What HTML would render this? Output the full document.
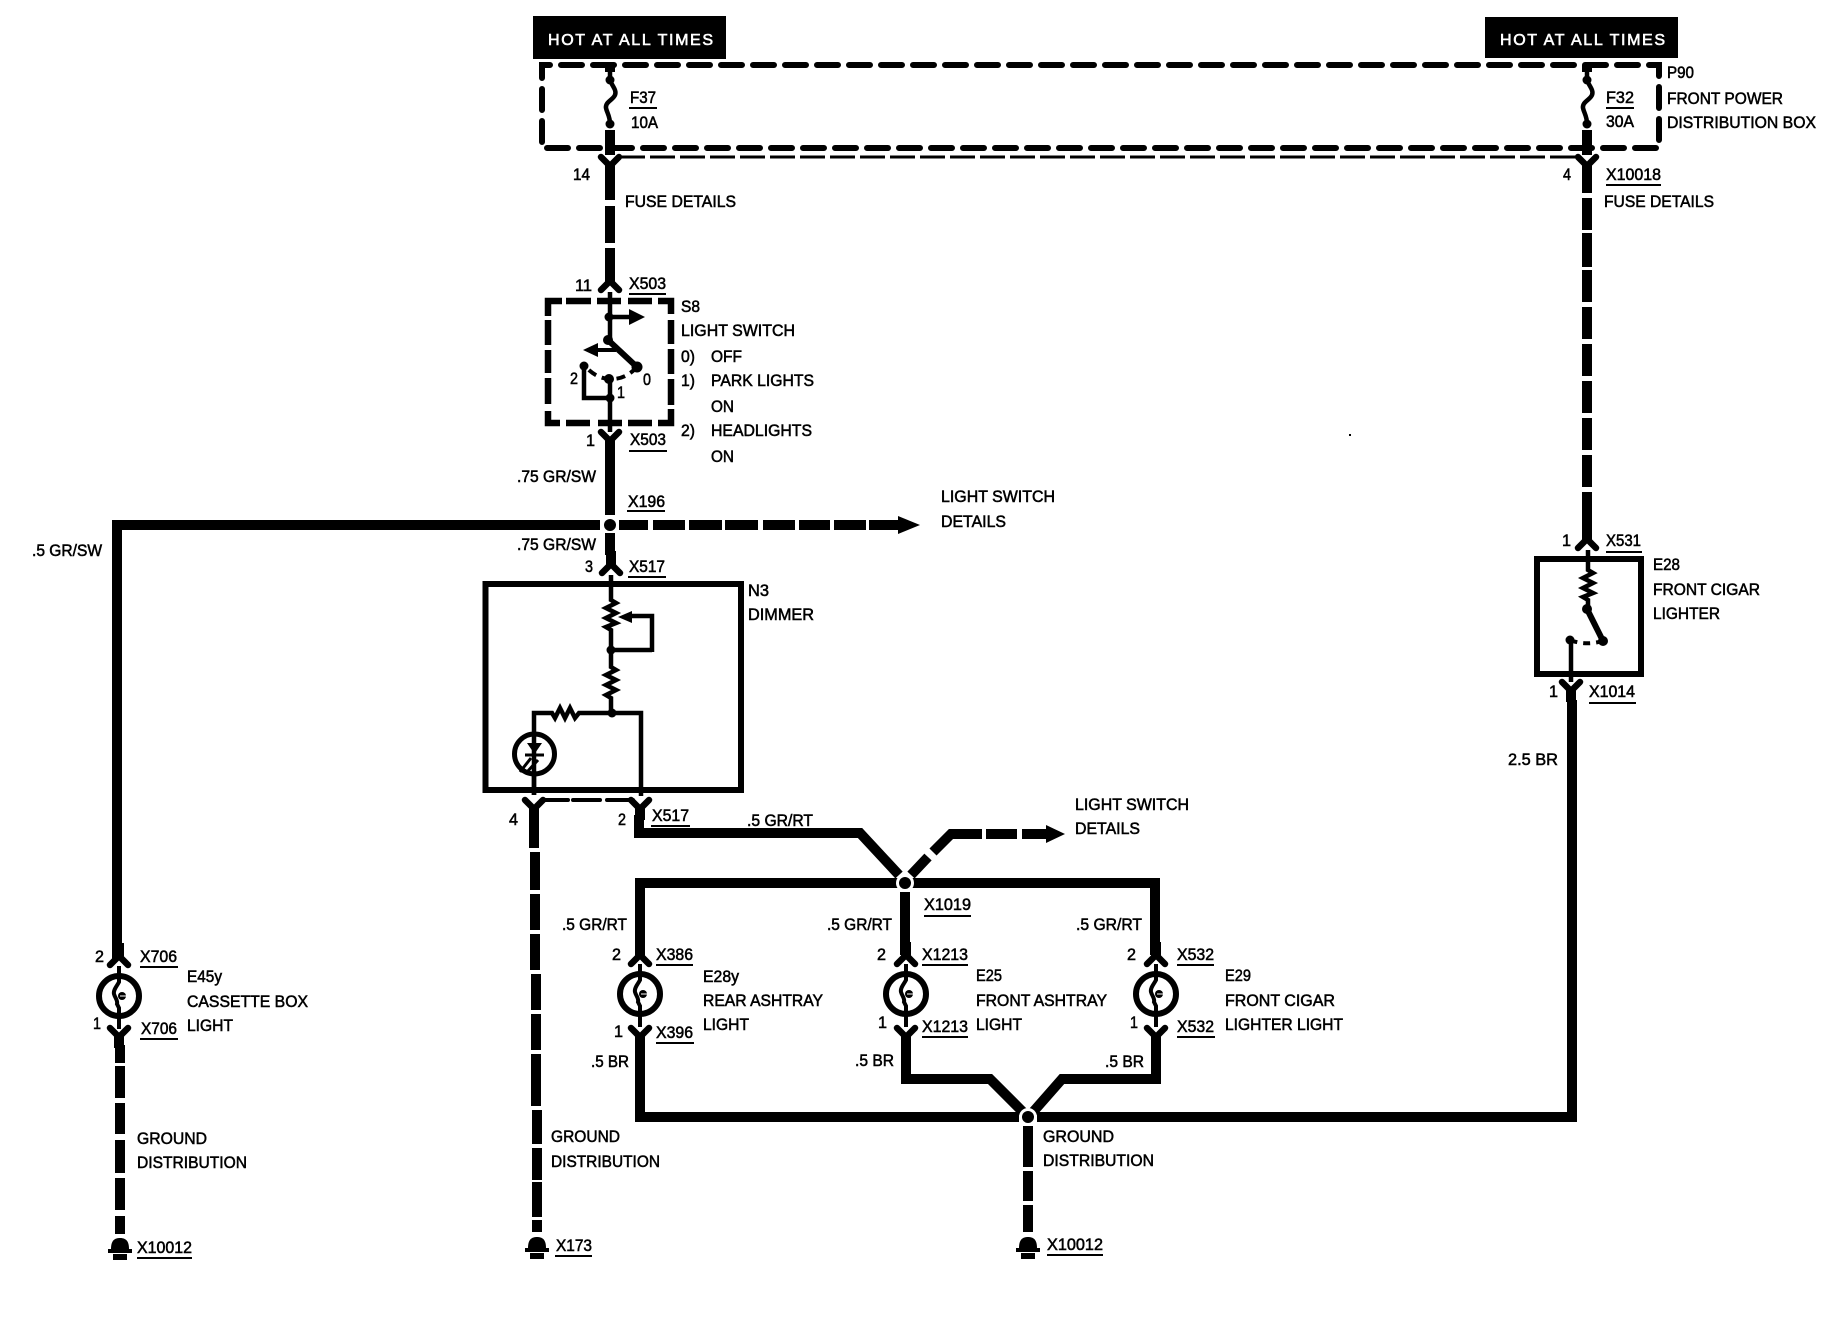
<!DOCTYPE html>
<html><head><meta charset="utf-8"><title>Wiring diagram</title>
<style>
html,body{margin:0;padding:0;background:#fff}
svg{display:block}
text{font-family:"Liberation Sans",sans-serif;font-size:17px;fill:#000;stroke:#000;stroke-width:.55;}
.w{fill:none;stroke:#000;stroke-width:10}
.t{fill:none;stroke:#000;stroke-width:4.5}
.box{fill:none;stroke:#000;stroke-width:6;stroke-linecap:round}
.u{stroke:#000;stroke-width:2}
</style></head><body>
<svg width="1826" height="1328" viewBox="0 0 1826 1328" xmlns="http://www.w3.org/2000/svg">
<defs>
<g id="up"><path d="M-9,0 L0,-9 L9,0" fill="none" stroke="#000" stroke-width="6.5" stroke-linecap="round"/><rect x="-5" y="-22" width="10" height="14"/></g>
<g id="dn"><path d="M-9,0 L0,9 L9,0" fill="none" stroke="#000" stroke-width="6.5" stroke-linecap="round"/><rect x="-5" y="8" width="10" height="12"/></g>
<g id="lamp"><circle r="20" fill="#fff" stroke="#000" stroke-width="6"/><path d="M0,-30 V-14 C-2,-10 -6,-6 -5,-2 C-4,2 -1,4 -2,8 L0,12 V33" fill="none" stroke="#000" stroke-width="4"/><circle cx="3" cy="0" r="4"/><path d="M1,0 H7" stroke="#fff" stroke-width="1"/></g>
<g id="gnd"><path d="M-9,11 C-9,2 -5,0 0,0 C5,0 9,2 9,11 Z"/><rect x="-12" y="11" width="24" height="4"/><rect x="-7" y="16" width="14" height="6"/></g>
</defs>
<rect width="1826" height="1328" fill="#fff"/>

<!-- hot boxes -->
<rect x="533" y="16" width="193" height="43"/>
<rect x="1485" y="17" width="193" height="41"/>
<text x="548" y="45" textLength="165" lengthAdjust="spacing" style="fill:#fff;stroke:#fff;stroke-width:.6;font-size:16px">HOT AT ALL TIMES</text>
<text x="1500" y="45" textLength="165" lengthAdjust="spacing" style="fill:#fff;stroke:#fff;stroke-width:.6;font-size:16px">HOT AT ALL TIMES</text>

<!-- P90 box -->
<path class="box" d="M542,78 V65 H1659 V148 H542 Z" stroke-dasharray="21 11"/>
<path d="M620,157 H1580" fill="none" stroke="#000" stroke-width="3" stroke-dasharray="25 5"/>

<!-- fuses -->
<path d="M610,65 V80 C612,86 617,90 615,95 C613,100 605,102 606,108 C607,113 610,116 610,124" class="t"/>
<rect x="605" y="65" width="10" height="7"/><circle cx="610" cy="80" r="4.5"/><circle cx="610" cy="124" r="4.5"/>
<rect x="605" y="130" width="10" height="25"/>
<path d="M1587,65 V80 C1589,86 1594,90 1592,95 C1590,100 1582,102 1583,108 C1584,113 1587,116 1587,124" class="t"/>
<rect x="1582" y="65" width="10" height="7"/><circle cx="1587" cy="80" r="4.5"/><circle cx="1587" cy="124" r="4.5"/>
<rect x="1582" y="130" width="10" height="25"/>

<use href="#dn" x="610" y="157"/>
<use href="#dn" x="1587" y="157"/>

<!-- main left vertical -->
<path class="w" d="M610,175 V200 M610,206 V243 M610,248 V285"/>
<use href="#up" x="610" y="290"/>

<!-- S8 -->
<path d="M548,316 V301 H562 M566,301 H591 M597,301 H621 M628,301 H652 M658,301 H671 V314 M671,320 V344 M671,349 V374 M671,379 V405 M671,409 V423 H658 M652,423 H628 M622,423 H598 M590,423 H566 M560,423 H548 V411 M548,404 V378 M548,373 V350 M548,345 V320" fill="none" stroke="#000" stroke-width="6.5"/>
<path class="t" d="M610,292 V340 M610,317 H632"/>
<path d="M645,317 L629,309 V325 Z"/>
<circle cx="609" cy="317" r="4.5"/><circle cx="608" cy="340" r="5"/>
<path d="M608,340 L637,367" fill="none" stroke="#000" stroke-width="6"/>
<circle cx="637" cy="367" r="5.5"/>
<path d="M583,350 L598,343 V357 Z"/><path d="M596,350 H616" stroke="#000" stroke-width="4"/>
<path d="M637,367 Q625,380 609,379 Q595,378 584,365" fill="none" stroke="#000" stroke-width="4" stroke-dasharray="9 6"/>
<circle cx="584" cy="366" r="4.5"/><circle cx="609" cy="379" r="5"/><circle cx="610" cy="398" r="4.5"/>
<path class="t" d="M584,366 V398 H610 M610,379 V432"/>
<use href="#dn" x="610" y="432"/>

<path class="w" d="M610,450 V515 M610,533 V555"/>
<!-- horizontal -->
<path class="w" d="M117,960 V525 H600"/>
<path class="w" d="M619,525 H648 M653,525 H685 M689,525 H722 M725,525 H758 M763,525 H795 M799,525 H830 M834,525 H866 M869,525 H898"/>
<path d="M920,525 L898,516 V534 Z"/>
<circle cx="610" cy="525" r="6"/>

<use href="#up" x="611" y="573"/>

<!-- N3 dimmer -->
<rect x="485.5" y="584" width="255.5" height="206" fill="none" stroke="#000" stroke-width="6"/>
<path class="t" d="M611,575 V600 l5,3 -10,5 10,5 -10,5 10,5 -10,4 5,3 V667 l5,3 -10,5 10,5 -10,5 10,5 -10,5 5,3 V713"/>
<path class="t" d="M652,650 H611 M652,652 V616 H630"/>
<path d="M618,617 L632,611 V623 Z"/>
<circle cx="611" cy="650" r="4.5"/><circle cx="612" cy="713" r="4.5"/>
<path class="t" d="M534,795 V713 H552 l3,5 5,-10 5,10 5,-10 5,10 4,-5 H641 V796"/>
<circle cx="534.5" cy="754" r="20" fill="#fff" stroke="#000" stroke-width="5"/>
<path class="t" d="M534,734 V795"/>
<path d="M527,743 H542 L534.5,754 Z"/><path d="M525,755 H544" stroke="#000" stroke-width="3"/>
<path d="M520,772 L531,758 M527,772 L538,760" stroke="#000" stroke-width="3"/>
<path d="M543,800 H568 M573,800 H600 M607,800 H633" stroke="#000" stroke-width="4" stroke-linecap="round"/>
<use href="#dn" x="534" y="800"/>
<use href="#dn" x="640" y="800"/>
<path class="w" d="M534,815 V848 M535,852 V890 M535,894 V930 M535,934 V970 M536,974 V1010 M536,1014 V1050 M536,1054 V1106 M537,1110 V1144 M537,1148 V1180 M537,1182 V1217 M537,1220 V1232"/>
<use href="#gnd" x="537" y="1237"/>

<!-- GR/RT net -->
<path class="w" d="M639,815 V833 H860 L899,875"/>
<path class="w" d="M911,875 L928,857 M933,852 L951,834 H982 M986,834 H1017 M1022,834 H1046"/>
<path d="M1065,834 L1046,825 V843 Z"/>
<path class="w" d="M640,955 V883 H1155 V955"/>
<path class="w" d="M905,892 V955"/>
<circle cx="905" cy="883" r="9" fill="#fff"/>
<circle cx="905" cy="883" r="6"/>

<use href="#up" x="640" y="964"/><use href="#up" x="906" y="964"/><use href="#up" x="1156" y="964"/><use href="#up" x="119" y="965"/>
<use href="#lamp" x="640" y="994"/><use href="#lamp" x="906" y="994"/><use href="#lamp" x="1156" y="994"/><use href="#lamp" x="119" y="996"/>
<use href="#dn" x="640" y="1028"/><use href="#dn" x="906" y="1028"/><use href="#dn" x="1156" y="1028"/><use href="#dn" x="119" y="1028"/>

<!-- cassette lower wire -->
<path class="w" d="M120,1045 V1063 M120,1066 V1098 M120,1103 V1134 M120,1140 V1173 M120,1178 V1210 M120,1216 V1234"/>
<use href="#gnd" x="120" y="1238"/>

<!-- BR net -->
<path class="w" d="M640,1040 V1117 H1019"/>
<path class="w" d="M1037,1117 H1572 V700"/>
<path class="w" d="M906,1040 V1079 H990 L1023,1112"/>
<path class="w" d="M1156,1040 V1079 H1062 L1033,1112"/>
<circle cx="1028" cy="1117" r="9" fill="#fff"/>
<circle cx="1028" cy="1117" r="6"/>
<path class="w" d="M1028,1126 V1167 M1028,1171 V1201 M1028,1205 V1232"/>
<use href="#gnd" x="1028" y="1237"/>

<!-- right vertical -->
<path class="w" d="M1587,175 V193 M1587,198 V230 M1587,233 V267 M1587,270 V302 M1587,307 V339 M1587,344 V376 M1587,381 V413 M1587,418 V450 M1587,455 V487 M1587,492 V528"/>
<use href="#up" x="1587" y="548"/>
<rect x="1537" y="559" width="104" height="115" fill="none" stroke="#000" stroke-width="6"/>
<path class="t" d="M1588,550 V570 l5,3 -10,5 10,5 -10,5 10,5 -10,4 5,3 V609"/>
<circle cx="1587" cy="609" r="5"/>
<path d="M1587,609 L1603,641" stroke="#000" stroke-width="6"/><circle cx="1603" cy="641" r="5"/>
<path d="M1603,641 Q1585,646 1570,640" fill="none" stroke="#000" stroke-width="4" stroke-dasharray="7 6"/>
<circle cx="1570" cy="640" r="4.5"/>
<path class="t" d="M1571,640 V682"/>
<use href="#dn" x="1571" y="682"/>
<rect x="1349" y="434" width="2" height="2"/>

<!-- labels -->
<text x="630" y="103" textLength="26" lengthAdjust="spacingAndGlyphs">F37</text><line class="u" x1="629" x2="657" y1="108" y2="108"/>
<text x="631" y="128" textLength="27" lengthAdjust="spacingAndGlyphs">10A</text>
<text x="573" y="180" textLength="17" lengthAdjust="spacingAndGlyphs">14</text>
<text x="625" y="207" textLength="111" lengthAdjust="spacingAndGlyphs">FUSE DETAILS</text>
<text x="575" y="291" textLength="17" lengthAdjust="spacingAndGlyphs">11</text>
<text x="629" y="289" textLength="37" lengthAdjust="spacingAndGlyphs">X503</text><line class="u" x1="629" x2="666" y1="294" y2="294"/>
<text x="681" y="312" textLength="19" lengthAdjust="spacingAndGlyphs">S8</text>
<text x="681" y="336" textLength="114" lengthAdjust="spacingAndGlyphs">LIGHT SWITCH</text>
<text x="681" y="362" textLength="14" lengthAdjust="spacingAndGlyphs">0)</text><text x="711" y="362" textLength="31" lengthAdjust="spacingAndGlyphs">OFF</text>
<text x="681" y="386" textLength="14" lengthAdjust="spacingAndGlyphs">1)</text><text x="711" y="386" textLength="103" lengthAdjust="spacingAndGlyphs">PARK LIGHTS</text>
<text x="711" y="412" textLength="23" lengthAdjust="spacingAndGlyphs">ON</text>
<text x="681" y="436" textLength="14" lengthAdjust="spacingAndGlyphs">2)</text><text x="711" y="436" textLength="101" lengthAdjust="spacingAndGlyphs">HEADLIGHTS</text>
<text x="711" y="462" textLength="23" lengthAdjust="spacingAndGlyphs">ON</text>
<text x="570" y="384" textLength="8" lengthAdjust="spacingAndGlyphs">2</text>
<text x="643" y="385" textLength="8" lengthAdjust="spacingAndGlyphs">0</text>
<text x="617" y="398" textLength="8" lengthAdjust="spacingAndGlyphs">1</text>
<text x="586" y="446" textLength="9" lengthAdjust="spacingAndGlyphs">1</text>
<text x="630" y="445" textLength="36" lengthAdjust="spacingAndGlyphs">X503</text><line class="u" x1="629" x2="667" y1="451" y2="451"/>
<text x="517" y="482" textLength="79" lengthAdjust="spacingAndGlyphs">.75 GR/SW</text>
<text x="628" y="507" textLength="37" lengthAdjust="spacingAndGlyphs">X196</text><line class="u" x1="627" x2="665" y1="511" y2="511"/>
<text x="941" y="502" textLength="114" lengthAdjust="spacingAndGlyphs">LIGHT SWITCH</text>
<text x="941" y="527" textLength="65" lengthAdjust="spacingAndGlyphs">DETAILS</text>
<text x="32" y="556" textLength="70" lengthAdjust="spacingAndGlyphs">.5 GR/SW</text>
<text x="517" y="550" textLength="79" lengthAdjust="spacingAndGlyphs">.75 GR/SW</text>
<text x="585" y="572" textLength="8" lengthAdjust="spacingAndGlyphs">3</text>
<text x="629" y="572" textLength="36" lengthAdjust="spacingAndGlyphs">X517</text><line class="u" x1="628" x2="666" y1="577" y2="577"/>
<text x="748" y="596" textLength="21" lengthAdjust="spacingAndGlyphs">N3</text>
<text x="748" y="620" textLength="66" lengthAdjust="spacingAndGlyphs">DIMMER</text>
<text x="509" y="825" textLength="9" lengthAdjust="spacingAndGlyphs">4</text>
<text x="618" y="825" textLength="8" lengthAdjust="spacingAndGlyphs">2</text>
<text x="652" y="821" textLength="37" lengthAdjust="spacingAndGlyphs">X517</text><line class="u" x1="651" x2="690" y1="826" y2="826"/>
<text x="747" y="826" textLength="66" lengthAdjust="spacingAndGlyphs">.5 GR/RT</text>
<text x="1075" y="810" textLength="114" lengthAdjust="spacingAndGlyphs">LIGHT SWITCH</text>
<text x="1075" y="834" textLength="65" lengthAdjust="spacingAndGlyphs">DETAILS</text>
<text x="924" y="910" textLength="47" lengthAdjust="spacingAndGlyphs">X1019</text><line class="u" x1="924" x2="971" y1="916" y2="916"/>
<text x="562" y="930" textLength="65" lengthAdjust="spacingAndGlyphs">.5 GR/RT</text>
<text x="827" y="930" textLength="65" lengthAdjust="spacingAndGlyphs">.5 GR/RT</text>
<text x="1076" y="930" textLength="66" lengthAdjust="spacingAndGlyphs">.5 GR/RT</text>
<text x="95" y="962" textLength="9" lengthAdjust="spacingAndGlyphs">2</text>
<text x="140" y="962" textLength="37" lengthAdjust="spacingAndGlyphs">X706</text><line class="u" x1="140" x2="178" y1="967" y2="967"/>
<text x="612" y="960" textLength="9" lengthAdjust="spacingAndGlyphs">2</text>
<text x="656" y="960" textLength="37" lengthAdjust="spacingAndGlyphs">X386</text><line class="u" x1="656" x2="693" y1="965" y2="965"/>
<text x="877" y="960" textLength="9" lengthAdjust="spacingAndGlyphs">2</text>
<text x="922" y="960" textLength="46" lengthAdjust="spacingAndGlyphs">X1213</text><line class="u" x1="922" x2="968" y1="965" y2="965"/>
<text x="1127" y="960" textLength="9" lengthAdjust="spacingAndGlyphs">2</text>
<text x="1177" y="960" textLength="37" lengthAdjust="spacingAndGlyphs">X532</text><line class="u" x1="1177" x2="1214" y1="965" y2="965"/>
<text x="187" y="982" textLength="35" lengthAdjust="spacingAndGlyphs">E45y</text>
<text x="187" y="1007" textLength="121" lengthAdjust="spacingAndGlyphs">CASSETTE BOX</text>
<text x="187" y="1031" textLength="46" lengthAdjust="spacingAndGlyphs">LIGHT</text>
<text x="703" y="982" textLength="36" lengthAdjust="spacingAndGlyphs">E28y</text>
<text x="703" y="1006" textLength="120" lengthAdjust="spacingAndGlyphs">REAR ASHTRAY</text>
<text x="703" y="1030" textLength="46" lengthAdjust="spacingAndGlyphs">LIGHT</text>
<text x="976" y="981" textLength="26" lengthAdjust="spacingAndGlyphs">E25</text>
<text x="976" y="1006" textLength="131" lengthAdjust="spacingAndGlyphs">FRONT ASHTRAY</text>
<text x="976" y="1030" textLength="46" lengthAdjust="spacingAndGlyphs">LIGHT</text>
<text x="1225" y="981" textLength="26" lengthAdjust="spacingAndGlyphs">E29</text>
<text x="1225" y="1006" textLength="110" lengthAdjust="spacingAndGlyphs">FRONT CIGAR</text>
<text x="1225" y="1030" textLength="118" lengthAdjust="spacingAndGlyphs">LIGHTER LIGHT</text>
<text x="93" y="1029" textLength="8" lengthAdjust="spacingAndGlyphs">1</text>
<text x="141" y="1034" textLength="36" lengthAdjust="spacingAndGlyphs">X706</text><line class="u" x1="140" x2="178" y1="1039" y2="1039"/>
<text x="614" y="1037" textLength="9" lengthAdjust="spacingAndGlyphs">1</text>
<text x="656" y="1038" textLength="37" lengthAdjust="spacingAndGlyphs">X396</text><line class="u" x1="656" x2="694" y1="1043" y2="1043"/>
<text x="878" y="1028" textLength="9" lengthAdjust="spacingAndGlyphs">1</text>
<text x="922" y="1032" textLength="46" lengthAdjust="spacingAndGlyphs">X1213</text><line class="u" x1="922" x2="968" y1="1037" y2="1037"/>
<text x="1130" y="1028" textLength="8" lengthAdjust="spacingAndGlyphs">1</text>
<text x="1177" y="1032" textLength="37" lengthAdjust="spacingAndGlyphs">X532</text><line class="u" x1="1177" x2="1215" y1="1037" y2="1037"/>
<text x="591" y="1067" textLength="38" lengthAdjust="spacingAndGlyphs">.5 BR</text>
<text x="855" y="1066" textLength="39" lengthAdjust="spacingAndGlyphs">.5 BR</text>
<text x="1105" y="1067" textLength="39" lengthAdjust="spacingAndGlyphs">.5 BR</text>
<text x="137" y="1144" textLength="70" lengthAdjust="spacingAndGlyphs">GROUND</text>
<text x="137" y="1168" textLength="110" lengthAdjust="spacingAndGlyphs">DISTRIBUTION</text>
<text x="551" y="1142" textLength="69" lengthAdjust="spacingAndGlyphs">GROUND</text>
<text x="551" y="1167" textLength="109" lengthAdjust="spacingAndGlyphs">DISTRIBUTION</text>
<text x="1043" y="1142" textLength="71" lengthAdjust="spacingAndGlyphs">GROUND</text>
<text x="1043" y="1166" textLength="111" lengthAdjust="spacingAndGlyphs">DISTRIBUTION</text>
<text x="137" y="1253" textLength="55" lengthAdjust="spacingAndGlyphs">X10012</text><line class="u" x1="137" x2="192" y1="1258" y2="1258"/>
<text x="556" y="1251" textLength="36" lengthAdjust="spacingAndGlyphs">X173</text><line class="u" x1="555" x2="592" y1="1256" y2="1256"/>
<text x="1047" y="1250" textLength="56" lengthAdjust="spacingAndGlyphs">X10012</text><line class="u" x1="1047" x2="1103" y1="1255" y2="1255"/>
<text x="1606" y="103" textLength="28" lengthAdjust="spacingAndGlyphs">F32</text><line class="u" x1="1606" x2="1634" y1="108" y2="108"/>
<text x="1606" y="127" textLength="28" lengthAdjust="spacingAndGlyphs">30A</text>
<text x="1667" y="78" textLength="27" lengthAdjust="spacingAndGlyphs">P90</text>
<text x="1667" y="104" textLength="116" lengthAdjust="spacingAndGlyphs">FRONT POWER</text>
<text x="1667" y="128" textLength="149" lengthAdjust="spacingAndGlyphs">DISTRIBUTION BOX</text>
<text x="1563" y="180" textLength="8" lengthAdjust="spacingAndGlyphs">4</text>
<text x="1606" y="180" textLength="55" lengthAdjust="spacingAndGlyphs">X10018</text><line class="u" x1="1606" x2="1661" y1="185" y2="185"/>
<text x="1604" y="207" textLength="110" lengthAdjust="spacingAndGlyphs">FUSE DETAILS</text>
<text x="1562" y="546" textLength="9" lengthAdjust="spacingAndGlyphs">1</text>
<text x="1606" y="546" textLength="35" lengthAdjust="spacingAndGlyphs">X531</text><line class="u" x1="1606" x2="1642" y1="552" y2="552"/>
<text x="1653" y="570" textLength="27" lengthAdjust="spacingAndGlyphs">E28</text>
<text x="1653" y="595" textLength="107" lengthAdjust="spacingAndGlyphs">FRONT CIGAR</text>
<text x="1653" y="619" textLength="67" lengthAdjust="spacingAndGlyphs">LIGHTER</text>
<text x="1549" y="697" textLength="9" lengthAdjust="spacingAndGlyphs">1</text>
<text x="1589" y="697" textLength="46" lengthAdjust="spacingAndGlyphs">X1014</text><line class="u" x1="1589" x2="1636" y1="703" y2="703"/>
<text x="1508" y="765" textLength="50" lengthAdjust="spacingAndGlyphs">2.5 BR</text>
</svg>
</body></html>
